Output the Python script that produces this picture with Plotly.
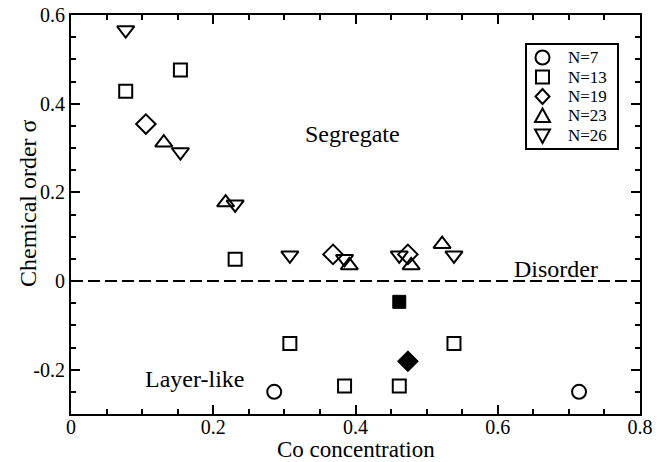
import plotly.graph_objects as go

# N=7 (circles)
x7 = [2/7, 5/7]
y7 = [-0.25, -0.25]
# N=13 (squares)
x13 = [1/13, 2/13, 3/13, 4/13, 5/13, 6/13, 7/13]
y13 = [0.428, 0.476, 0.049, -0.141, -0.237, -0.237, -0.141]
# N=19 (diamonds)
x19 = [2/19, 7/19, 9/19]
y19 = [0.354, 0.060, 0.060]
# N=23 (triangle up)
x23 = [3/23, 5/23, 9/23, 11/23, 12/23]
y23 = [0.312, 0.177, 0.035, 0.035, 0.083]
# N=26 (triangle down)
x26 = [2/26, 4/26, 6/26, 8/26, 10/26, 12/26, 14/26]
y26 = [0.566, 0.291, 0.173, 0.058, 0.050, 0.058, 0.058]
# filled points
xfill_sq = [6/13]
yfill_sq = [-0.047]
xfill_di = [9/19]
yfill_di = [-0.181]

legend_names = ["N=7", "N=13", "N=19", "N=23", "N=26"]
legend_kinds = ["circle", "square", "diamond", "tri-up", "tri-down"]

FONT = "Liberation Serif"
W, H = 665, 462
ML, MR, MT, MB = 71, 25, 15, 48
PW, PH = W - ML - MR, H - MT - MB

def px(x):
    return (x - ML) / PW

def py(y):
    return 1 - (y - MT) / PH

fig = go.Figure()

def add(x, y, name, sym, size=13):
    fig.add_trace(go.Scatter(
        x=x, y=y, mode="markers", name=name, showlegend=False,
        marker=dict(symbol=sym, size=size, color="black",
                    line=dict(color="black", width=2))))

add(x7, y7, "N=7", "circle-open", 14)
add(x13, y13, "N=13", "square-open", 13)
add(x19, y19, "N=19", "diamond-open", 15)
add(x23, y23, "N=23", "triangle-up-open", 15)
add(x26, y26, "N=26", "triangle-down-open", 15)

fig.add_trace(go.Scatter(x=xfill_sq, y=yfill_sq, mode="markers", showlegend=False,
                         marker=dict(symbol="square", size=13, color="black",
                                     line=dict(color="black", width=1))))
fig.add_trace(go.Scatter(x=xfill_di, y=yfill_di, mode="markers", showlegend=False,
                         marker=dict(symbol="diamond", size=16, color="black",
                                     line=dict(color="black", width=1))))

# dashed zero line
fig.add_shape(type="line", xref="paper", x0=0, x1=1, yref="y", y0=0, y1=0,
              line=dict(color="black", width=2, dash="12px,5px"))

# region labels
for txt, tx, ty in [("Segregate", 0.396, 0.331), ("Disorder", 0.682, 0.026),
                    ("Layer-like", 0.173, -0.222)]:
    fig.add_annotation(x=tx, y=ty, text=txt, showarrow=False,
                       font=dict(family=FONT, size=24, color="black"))

# legend (drawn by hand for the tight row spacing of the original)
LX0, LX1, LY0, LY1 = 526, 618, 44, 149
fig.add_shape(type="rect", xref="paper", yref="paper",
              x0=px(LX0), x1=px(LX1), y0=py(LY1), y1=py(LY0),
              line=dict(color="black", width=2), fillcolor="white", layer="above")
sym_x = 542.5
row_y = [57.5, 77, 96.5, 116, 135.5]
ln = dict(color="black", width=2)
for name, kind, ry in zip(legend_names, legend_kinds, row_y):
    r = 7
    if kind == "circle":
        fig.add_shape(type="circle", xref="paper", yref="paper",
                      x0=px(sym_x - r), x1=px(sym_x + r), y0=py(ry + r), y1=py(ry - r),
                      line=ln, layer="above")
    elif kind == "square":
        s = 6.5
        fig.add_shape(type="rect", xref="paper", yref="paper",
                      x0=px(sym_x - s), x1=px(sym_x + s), y0=py(ry + s), y1=py(ry - s),
                      line=ln, layer="above")
    else:
        if kind == "diamond":
            pts = [(sym_x, ry - 7.5), (sym_x + 7, ry), (sym_x, ry + 7.5), (sym_x - 7, ry)]
        elif kind == "tri-up":
            pts = [(sym_x, ry - 7.5), (sym_x + 7.5, ry + 6), (sym_x - 7.5, ry + 6)]
        else:
            pts = [(sym_x, ry + 7.5), (sym_x + 7.5, ry - 6), (sym_x - 7.5, ry - 6)]
        path = "M " + " L ".join(f"{px(a):.5f},{py(b):.5f}" for a, b in pts) + " Z"
        fig.add_shape(type="path", xref="paper", yref="paper", path=path,
                      line=ln, layer="above")
    fig.add_annotation(xref="paper", yref="paper", x=px(567), y=py(ry),
                       xanchor="left", yanchor="middle", text=name, showarrow=False,
                       borderpad=0,
                       font=dict(family=FONT, size=17, color="black"))

# axis titles
fig.add_annotation(xref="paper", yref="paper", x=px((ML + W - MR) / 2), y=py(449),
                   text="Co concentration", showarrow=False, xanchor="center", yanchor="middle",
                   borderpad=0,
                   font=dict(family=FONT, size=23, color="black"))
fig.add_annotation(xref="paper", yref="paper", x=px(28), y=py(203),
                   text="Chemical order σ", showarrow=False, textangle=-90,
                   xanchor="center", yanchor="middle",
                   font=dict(family=FONT, size=24, color="black"))

axis_common = dict(showline=True, linecolor="black", linewidth=2, mirror="ticks",
                   ticks="inside", ticklen=9, tickwidth=2, tickcolor="black",
                   showgrid=False, zeroline=False, automargin=False,
                   tickfont=dict(family=FONT, size=20, color="black"))

fig.update_xaxes(range=[0, 0.8],
                 tickvals=[0, 0.2, 0.4, 0.6, 0.8], ticktext=["0", "0.2", "0.4", "0.6", "0.8"],
                 minor=dict(ticks="inside", dtick=0.05, tick0=0, ticklen=5, tickwidth=1.5, tickcolor="black"),
                 ticklabelstandoff=-6,
                 **axis_common)
fig.update_yaxes(range=[-0.3, 0.6],
                 tickvals=[-0.2, 0, 0.2, 0.4, 0.6], ticktext=["-0.2", "0", "0.2", "0.4", "0.6"],
                 minor=dict(ticks="inside", dtick=0.05, tick0=0, ticklen=5, tickwidth=1.5, tickcolor="black"),
                 **axis_common)

fig.update_layout(
    width=W, height=H,
    margin=dict(l=ML, r=MR, t=MT, b=MB),
    plot_bgcolor="white", paper_bgcolor="white",
    showlegend=False,
)

fig.write_html("out.html")
